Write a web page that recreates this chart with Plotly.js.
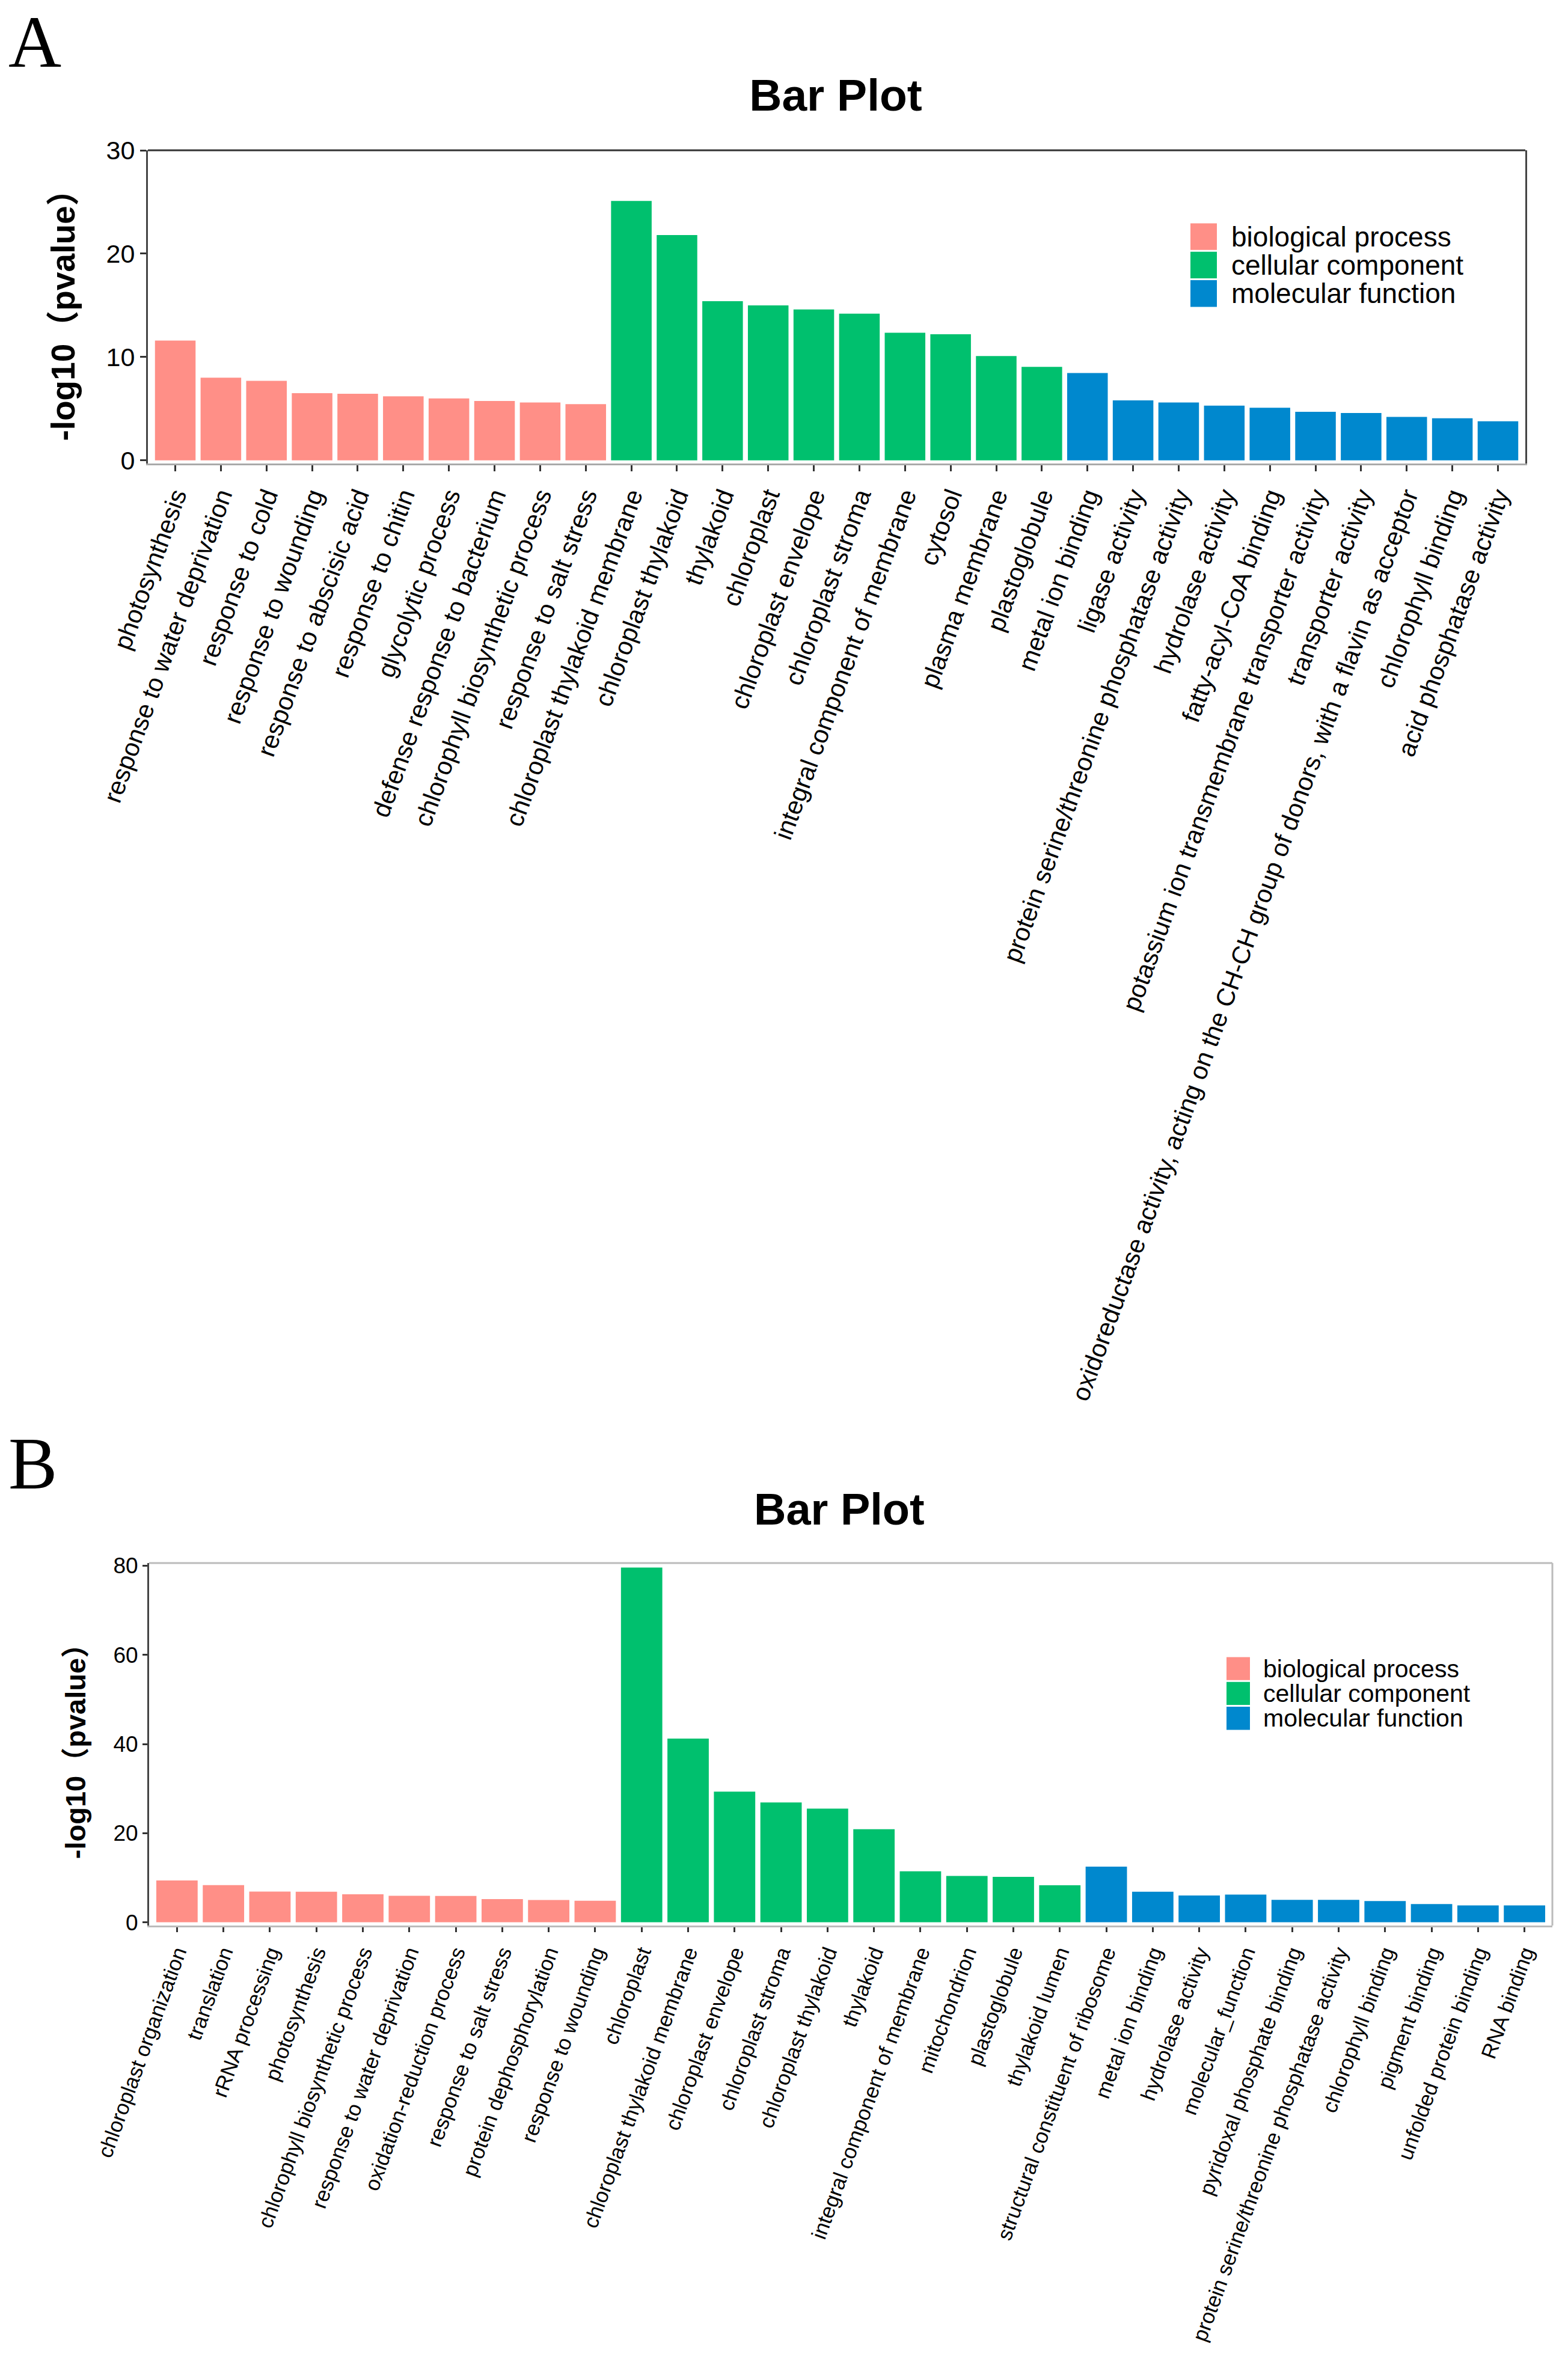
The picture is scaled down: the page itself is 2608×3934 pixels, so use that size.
<!DOCTYPE html>
<html>
<head>
<meta charset="utf-8">
<script src="https://cdn.plot.ly/plotly-3.0.1.min.js"></script>
<style>html,body{margin:0;padding:0;background:#fff;}#chart{width:2608px;height:3934px;}</style>
</head>
<body>
<div id="chart"></div>
<script>
// ---------- DATA ----------
const groupNames = ['biological process', 'cellular component', 'molecular function'];
const groupColors = ['#FF8F87', '#00C06E', '#0088CE'];

// Panel A
const catsA_BP = ['photosynthesis', 'response to water deprivation', 'response to cold', 'response to wounding',
  'response to abscisic acid', 'response to chitin', 'glycolytic process', 'defense response to bacterium',
  'chlorophyll biosynthetic process', 'response to salt stress'];
const valsA_BP = [11.6, 8.0, 7.7, 6.5, 6.45, 6.2, 6.0, 5.75, 5.6, 5.45];
const catsA_CC = ['chloroplast thylakoid membrane', 'chloroplast thylakoid', 'thylakoid', 'chloroplast',
  'chloroplast envelope', 'chloroplast stroma', 'integral component of membrane', 'cytosol',
  'plasma membrane', 'plastoglobule'];
const valsA_CC = [25.1, 21.8, 15.4, 15.0, 14.6, 14.2, 12.35, 12.2, 10.1, 9.05];
const catsA_MF = ['metal ion binding', 'ligase activity', 'protein serine/threonine phosphatase activity',
  'hydrolase activity', 'fatty-acyl-CoA binding', 'potassium ion transmembrane transporter activity',
  'transporter activity', 'oxidoreductase activity, acting on the CH-CH group of donors, with a flavin as acceptor',
  'chlorophyll binding', 'acid phosphatase activity'];
const valsA_MF = [8.45, 5.8, 5.6, 5.3, 5.1, 4.7, 4.58, 4.2, 4.07, 3.78];

// Panel B
const catsB_BP = ['chloroplast organization', 'translation', 'rRNA processing', 'photosynthesis',
  'chlorophyll biosynthetic process', 'response to water deprivation', 'oxidation-reduction process',
  'response to salt stress', 'protein dephosphorylation', 'response to wounding'];
const valsB_BP = [9.4, 8.35, 6.9, 6.85, 6.3, 5.95, 5.9, 5.2, 5.0, 4.85];
const catsB_CC = ['chloroplast', 'chloroplast thylakoid membrane', 'chloroplast envelope', 'chloroplast stroma',
  'chloroplast thylakoid', 'thylakoid', 'integral component of membrane', 'mitochondrion',
  'plastoglobule', 'thylakoid lumen'];
const valsB_CC = [79.6, 41.2, 29.3, 26.9, 25.5, 20.9, 11.45, 10.4, 10.2, 8.3];
const catsB_MF = ['structural constituent of ribosome', 'metal ion binding', 'hydrolase activity',
  'molecular_function', 'pyridoxal phosphate binding', 'protein serine/threonine phosphatase activity',
  'chlorophyll binding', 'pigment binding', 'unfolded protein binding', 'RNA binding'];
const valsB_MF = [12.5, 6.86, 6.0, 6.2, 5.05, 5.03, 4.78, 4.1, 3.8, 3.78];

const yTicksA = [0, 10, 20, 30];
const yTicksB = [0, 20, 40, 60, 80];
const yTitleText = '-log10（pvalue）';
const chartTitle = 'Bar Plot';

// ---------- BUILD ----------
const W = 2608, H = 3934;
const fx = p => p / W;
const fy = p => 1 - p / H;
const FONT = 'Liberation Sans, Arial, Noto Sans CJK SC, sans-serif';

const panelA = [[catsA_BP, valsA_BP], [catsA_CC, valsA_CC], [catsA_MF, valsA_MF]];
const panelB = [[catsB_BP, valsB_BP], [catsB_CC, valsB_CC], [catsB_MF, valsB_MF]];

const traces = [];
panelA.forEach((d, i) => traces.push({
  type: 'bar', x: d[0], y: d[1], xaxis: 'x', yaxis: 'y', width: 0.89,
  name: groupNames[i], marker: {color: groupColors[i], line: {width: 0}}, showlegend: false,
  hoverinfo: 'x+y'
}));
panelB.forEach((d, i) => traces.push({
  type: 'bar', x: d[0], y: d[1], xaxis: 'x2', yaxis: 'y2', width: 0.89,
  name: groupNames[i], marker: {color: groupColors[i], line: {width: 0}}, showlegend: false,
  hoverinfo: 'x+y'
}));

const allA = [].concat(catsA_BP, catsA_CC, catsA_MF);
const allB = [].concat(catsB_BP, catsB_CC, catsB_MF);

function xAxis(domain, anchor, cats, fs, tl, lc) {
  return {
    domain: domain, anchor: anchor, type: 'category', categoryorder: 'array', categoryarray: cats,
    range: [-0.6, cats.length - 0.4], tickangle: -70,
    tickfont: {family: FONT, size: fs, color: '#000'},
    ticks: 'outside', ticklen: tl, tickwidth: 3, tickcolor: '#333',
    showline: true, linecolor: lc, linewidth: 3, mirror: false,
    showgrid: false, zeroline: false, automargin: false, fixedrange: true
  };
}
function yAxis(domain, anchor, range, tv, fs, tfs, tl, mirror) {
  return {
    domain: domain, anchor: anchor, range: range, tickvals: tv, ticktext: tv.map(String),
    tickfont: {family: FONT, size: fs, color: '#000'},
    ticks: 'outside', ticklen: tl, tickwidth: 3, tickcolor: '#333',
    showline: true, linecolor: '#444', linewidth: 3, mirror: mirror,
    showgrid: false, zeroline: false, automargin: false, fixedrange: true,
    title: {text: yTitleText, font: {family: FONT, size: tfs, color: '#000', weight: 'bold'}}
  };
}

const shapes = [];
const annotations = [];
// top border of panel A (dark)
shapes.push({type: 'line', xref: 'x domain', yref: 'y domain', x0: 0, x1: 1, y0: 1, y1: 1,
  line: {color: '#333', width: 3}});
// top/right border of panel B (light)
shapes.push({type: 'line', xref: 'x2 domain', yref: 'y2 domain', x0: 0, x1: 1, y0: 1, y1: 1,
  line: {color: '#bbb', width: 3}});
shapes.push({type: 'line', xref: 'x2 domain', yref: 'y2 domain', x0: 1, x1: 1, y0: 0, y1: 1,
  line: {color: '#bbb', width: 3}});

// legends (drawn from group names / colors)
function addLegend(x0, y0, sw, rh, tx, fs) {
  groupNames.forEach((g, i) => {
    shapes.push({type: 'rect', xref: 'paper', yref: 'paper',
      x0: fx(x0), x1: fx(x0 + sw), y0: fy(y0 + rh * i + 1.5), y1: fy(y0 + rh * (i + 1) - 1.5),
      fillcolor: groupColors[i], line: {width: 0}});
    annotations.push({xref: 'paper', yref: 'paper', x: fx(tx), y: fy(y0 + rh * (i + 0.5)),
      xanchor: 'left', yanchor: 'middle', showarrow: false, text: g,
      font: {family: FONT, size: fs, color: '#000'}});
  });
}
addLegend(1980, 370, 44, 47.3, 2046, 46);
addLegend(2040, 2755, 39, 41.3, 2099, 41);

// panel letters
annotations.push({xref: 'paper', yref: 'paper', x: fx(12), y: 1, xanchor: 'left', yanchor: 'top',
  showarrow: false, text: 'A', font: {family: 'Liberation Serif, Times New Roman, serif', size: 122, color: '#000'}});
annotations.push({xref: 'paper', yref: 'paper', x: fx(12), y: fy(2434), xanchor: 'left', yanchor: 'middle',
  showarrow: false, text: 'B', font: {family: 'Liberation Serif, Times New Roman, serif', size: 122, color: '#000'}});
// panel B title
annotations.push({xref: 'paper', yref: 'paper', x: fx(1396), y: fy(2510), xanchor: 'center', yanchor: 'middle',
  showarrow: false, text: chartTitle, font: {family: FONT, size: 74, color: '#000', weight: 'bold'}});

const layout = {
  width: W, height: H, margin: {l: 0, r: 0, t: 0, b: 0},
  paper_bgcolor: '#fff', plot_bgcolor: '#fff', barmode: 'overlay', showlegend: false,
  title: {text: chartTitle, x: fx(1390), xanchor: 'center', xref: 'paper', y: fy(158), yref: 'container', yanchor: 'middle',
    font: {family: FONT, size: 75, color: '#000', weight: 'bold'}},
  xaxis: xAxis([fx(246), fx(2537)], 'y', allA, 42, 10, '#aaa'),
  yaxis: yAxis([fy(771), fy(250)], 'x', [-0.3, 30], yTicksA, 43, 55, 10, true),
  xaxis2: xAxis([fx(248), fx(2582)], 'y2', allB, 35, 8, '#bbb'),
  yaxis2: yAxis([fy(3203), fy(2600)], 'x2', [-0.73, 80.6], yTicksB, 37, 47, 8, false),
  shapes: shapes,
  annotations: annotations
};

Plotly.newPlot('chart', traces, layout, {displayModeBar: false, staticPlot: true});
</script>
</body>
</html>
